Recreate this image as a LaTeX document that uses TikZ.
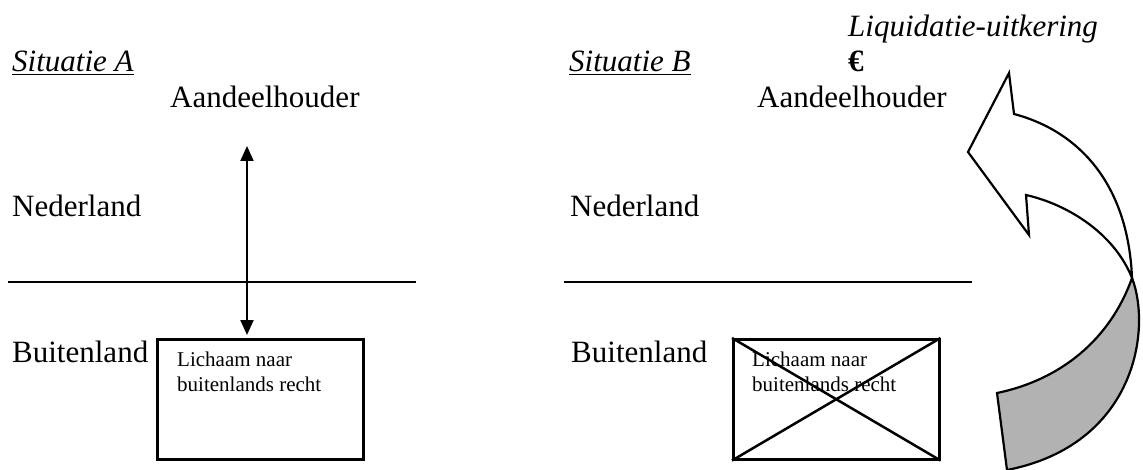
\documentclass[tikz,border=0pt]{standalone}
\usepackage{fontspec}
\setmainfont{Liberation Serif}
\usetikzlibrary{arrows.meta}

\tikzstyle{region} = [anchor=base west, inner sep=0pt, font=\fontsize{31}{37}\selectfont]
\tikzstyle{entity} = [draw, line width=2.5pt, minimum width=206pt, minimum height=120pt, anchor=north west, inner sep=0pt]
\tikzstyle{entitytext} = [anchor=base west, inner sep=0pt, align=left, font=\fontsize{21}{24.5}\selectfont]
\tikzstyle{arrow} = [line width=2.2pt,<->,>={Triangle[width=13pt,length=15pt]}]
\tikzstyle{border} = [line width=2.5pt]
\tikzstyle{band} = [line width=2.2pt, line join=miter]

\begin{document}
\begin{tikzpicture}[x=1pt,y=-1pt]
\useasboundingbox (0,0) rectangle (1143,470);

% Situatie A
\node (titleA) [region] at (12,72) {\underline{\textit{Situatie A}}};
\node (holderA) [region] at (170,108) {Aandeelhouder};
\node (nlA) [region] at (12,217) {Nederland};
\node (foreignA) [region] at (12,362) {Buitenland};
\node (boxA) [entity] at (156,338) {};
\node (textA) [entitytext] at (177,391) {Lichaam naar\\buitenlands recht};
\draw [border] (8,282) -- (416,282);
\coordinate (topA) at (247,146);
\draw [arrow] (topA) -- ([yshift=3pt]topA |- boxA.north);

% Situatie B
\node (titleB) [region] at (569,72) {\underline{\textit{Situatie B}}};
\node (payout) [region] at (848,37) {\textit{Liquidatie-uitkering}};
\node (euro) [region] at (848,72) {\textbf{€}};
\node (holderB) [region] at (757,108) {Aandeelhouder};
\node (nlB) [region] at (570,217) {Nederland};
\node (foreignB) [region] at (571,362) {Buitenland};
\node (boxB) [entity] at (732,338) {};
\node (textB) [entitytext] at (752,391) {Lichaam naar\\buitenlands recht};
\draw [border] (boxB.north west) -- (boxB.south east);
\draw [border] (boxB.south west) -- (boxB.north east);
\draw [border] (564,282) -- (972,282);

% curved arrow
\coordinate (cross) at (1132,278);
\filldraw [band, fill=black!30] (cross) .. controls (1110,340) and (1060,380) .. (997,393)
  -- (1007,470) .. controls (1135,445) and (1152,330) .. cycle;
\filldraw [band, fill=white] (cross) .. controls (1128,180) and (1075,130) .. (1014,114)
  -- (1009,73) -- (968,152) -- (1029,235) -- (1026,195)
  .. controls (1070,205) and (1115,235) .. cycle;
\end{tikzpicture}
\end{document}
